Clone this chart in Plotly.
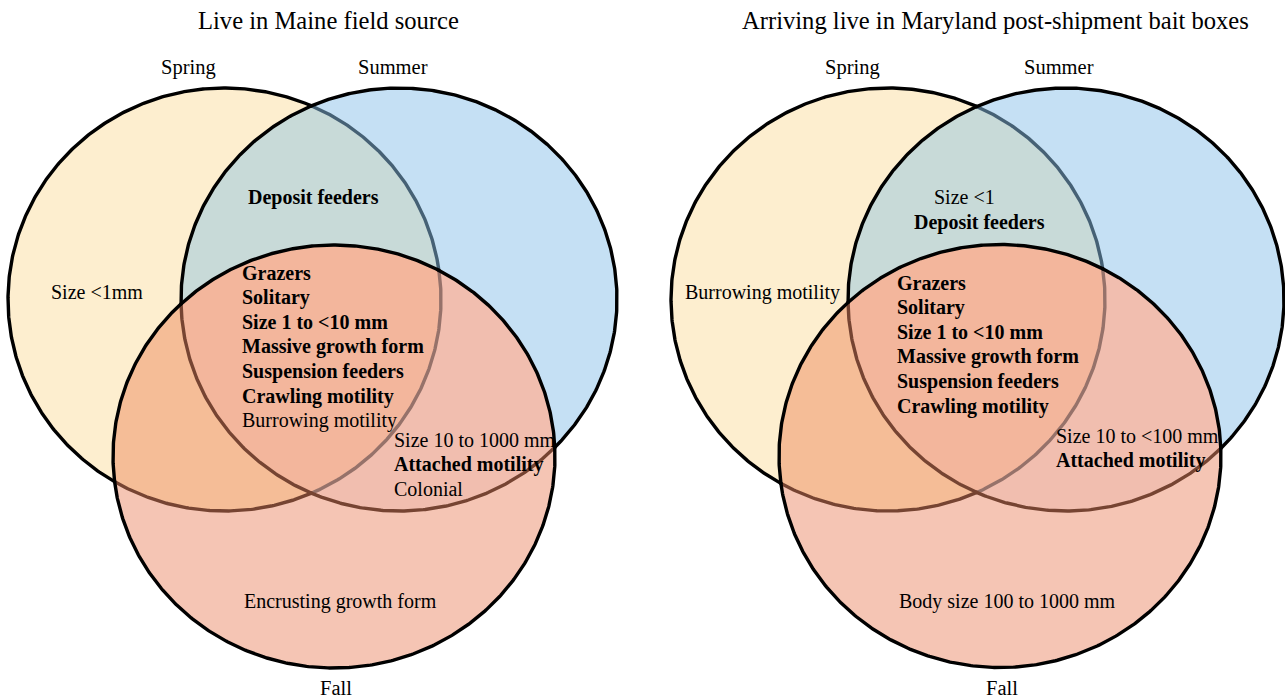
import numpy as np
import plotly.graph_objects as go

# ---------------- data ----------------
SET_NAMES = ["Spring", "Summer", "Fall"]
PANEL_TITLES = ["Live in Maine field source",
                "Arriving live in Maryland post-shipment bait boxes"]

# Region contents: (text, bold)
MAINE_SPRING_ONLY = [("Size <1mm", False)]
MAINE_SPRING_SUMMER = [("Deposit feeders", True)]
MAINE_ALL_SEASONS = [("Grazers", True), ("Solitary", True), ("Size 1 to <10 mm", True),
                     ("Massive growth form", True), ("Suspension feeders", True),
                     ("Crawling motility", True), ("Burrowing motility", False)]
MAINE_SUMMER_FALL = [("Size 10 to 1000 mm", False), ("Attached motility", True),
                     ("Colonial", False)]
MAINE_FALL_ONLY = [("Encrusting growth form", False)]

MD_SPRING_ONLY = [("Burrowing motility", False)]
MD_SPRING_SUMMER = [("Size <1", False), ("Deposit feeders", True)]
MD_ALL_SEASONS = [("Grazers", True), ("Solitary", True), ("Size 1 to <10 mm", True),
                  ("Massive growth form", True), ("Suspension feeders", True),
                  ("Crawling motility", True)]
MD_SUMMER_FALL = [("Size 10 to <100 mm", False), ("Attached motility", True)]
MD_FALL_ONLY = [("Body size 100 to 1000 mm", False)]

# ---------------- layout / style ----------------
W, H = 1285, 698
FONT = "Liberation Serif, Times New Roman, serif"
LINE_STEP = 24.6
LINE_W = 3.4

# fill colour of each region, keyed by membership (Spring, Summer, Fall)
REGION_COLORS = {
    (1, 0, 0): "rgb(253,238,207)",
    (0, 1, 0): "rgb(197,224,244)",
    (1, 1, 0): "rgb(200,218,216)",
    (0, 0, 1): "rgb(245,197,180)",
    (1, 0, 1): "rgb(245,189,151)",
    (0, 1, 1): "rgb(241,190,175)",
    (1, 1, 1): "rgb(243,182,156)",
}


def outline_color(i, others):
    """Tint of circle i's outline where it lies under the other (translucent) circles."""
    sp, su, fa = others
    if i == 0:
        if su and fa:
            return "rgb(150,114,106)"
        if su:
            return "rgb(70,97,117)"
        if fa:
            return "rgb(118,68,50)"
        return "black"
    if i == 1:
        return "rgb(118,68,50)" if fa else "black"
    return "black"


# ellipses: (cx, cy, rx, ry) for Spring, Summer, Fall
PANELS = [
    dict(title=PANEL_TITLES[0], title_x=328, title_size=24.6,
         ellipses=[(224.5, 299.5, 216.5, 211.5), (399, 299.5, 218, 211.5),
                   (334, 456.5, 221, 211.5)],
         set_label_pos=[(188, 67), (393, 67), (336, 688)],
         regions=[
             (MAINE_SPRING_ONLY, "center", 97, 292),
             (MAINE_SPRING_SUMMER, "center", 313, 197),
             (MAINE_ALL_SEASONS, "left", 240, 273),
             (MAINE_SUMMER_FALL, "left", 392, 440),
             (MAINE_FALL_ONLY, "center", 340, 601),
         ]),
    dict(title=PANEL_TITLES[1], title_x=995, title_size=24.6,
         ellipses=[(888, 299.5, 217, 211.5), (1066, 299.5, 218, 211.5),
                   (1000, 456, 221, 211.5)],
         set_label_pos=[(852, 67), (1059, 67), (1002, 688)],
         regions=[
             (MD_SPRING_ONLY, "center", 762, 292),
             (MD_SPRING_SUMMER[:1], "left", 932, 197),
             (MD_SPRING_SUMMER[1:], "left", 912, 222),
             (MD_ALL_SEASONS, "left", 895, 283),
             (MD_SUMMER_FALL, "left", 1054, 436),
             (MD_FALL_ONLY, "center", 1007, 601),
         ]),
]


def ell_xy(e, t):
    cx, cy, rx, ry = e
    return cx + rx * np.cos(t), cy + ry * np.sin(t)


def is_in(e, x, y):
    cx, cy, rx, ry = e
    return ((x - cx) / rx) ** 2 + ((y - cy) / ry) ** 2 < 1


def venn_arcs(E):
    """Split each ellipse into arcs at its crossings with the other ellipses."""
    arcs = []
    N = 3600
    for i in range(3):
        others = [j for j in range(3) if j != i]

        def code(t):
            x, y = ell_xy(E[i], t)
            return sum((1 << j) * is_in(E[j], x, y) for j in others)

        t = np.linspace(0, 2 * np.pi, N, endpoint=False)
        c = code(t)
        cuts = []
        for n in np.nonzero(c != np.roll(c, 1))[0]:
            lo = t[n - 1] if n > 0 else t[-1] - 2 * np.pi
            hi = t[n]
            clo = code(np.array([lo]))[0]
            for _ in range(40):
                mid = (lo + hi) / 2
                if code(np.array([mid]))[0] == clo:
                    lo = mid
                else:
                    hi = mid
            cuts.append(((lo + hi) / 2) % (2 * np.pi))
        cuts.sort()
        for n in range(len(cuts)):
            a0 = cuts[n]
            a1 = cuts[(n + 1) % len(cuts)]
            if a1 <= a0:
                a1 += 2 * np.pi
            mx, my = ell_xy(E[i], (a0 + a1) / 2)
            inside = tuple(int(is_in(E[j], mx, my)) if j != i else None for j in range(3))
            arcs.append(dict(circle=i, a0=a0, a1=a1, inside=inside))
    return arcs


def arc_pts(e, t0, t1):
    n = max(6, int(abs(t1 - t0) / np.pi * 360))
    return ell_xy(e, np.linspace(t0, t1, n))


fig = go.Figure()
annotations = []

for p in PANELS:
    E = p["ellipses"]
    arcs = venn_arcs(E)
    # ---- region fills ----
    for memb, color in REGION_COLORS.items():
        segs = []
        for a in arcs:
            i = a["circle"]
            if all(a["inside"][j] == memb[j] for j in range(3) if j != i):
                if memb[i]:
                    segs.append(arc_pts(E[i], a["a0"], a["a1"]))
                else:
                    segs.append(arc_pts(E[i], a["a1"], a["a0"]))
        order, used = [0], {0}
        while len(order) < len(segs):
            ex, ey = segs[order[-1]][0][-1], segs[order[-1]][1][-1]
            best, bd = None, 1e9
            for n, (x, y) in enumerate(segs):
                if n in used:
                    continue
                dd = np.hypot(x[0] - ex, y[0] - ey)
                if dd < bd:
                    best, bd = n, dd
            order.append(best)
            used.add(best)
        xs = np.concatenate([segs[n][0] for n in order])
        ys = np.concatenate([segs[n][1] for n in order])
        fig.add_trace(go.Scatter(x=xs, y=ys, mode="lines", fill="toself",
                                 fillcolor=color, line=dict(width=0.5, color=color),
                                 hoverinfo="skip", showlegend=False))
    # ---- outlines (Spring, Summer, Fall in drawing order) ----
    for i in range(3):
        for a in arcs:
            if a["circle"] != i:
                continue
            x, y = arc_pts(E[i], a["a0"] - 0.004, a["a1"] + 0.004)
            fig.add_trace(go.Scatter(x=x, y=y, mode="lines",
                                     line=dict(width=LINE_W,
                                               color=outline_color(i, a["inside"])),
                                     hoverinfo="skip", showlegend=False))
    # ---- texts ----
    annotations.append(dict(x=p["title_x"], y=20, text=p["title"], showarrow=False,
                            xref="x", yref="y", xanchor="center", yanchor="middle",
                            font=dict(family=FONT, size=p["title_size"], color="black")))
    for name, (lx, ly) in zip(SET_NAMES, p["set_label_pos"]):
        annotations.append(dict(x=lx, y=ly, text=name, showarrow=False,
                                xref="x", yref="y", xanchor="center", yanchor="middle",
                                font=dict(family=FONT, size=20.5, color="black")))
    for items, anchor, x, y0 in p["regions"]:
        for i, (txt, bold) in enumerate(items):
            annotations.append(dict(x=x, y=y0 + i * LINE_STEP,
                                    text=f"<b>{txt}</b>" if bold else txt,
                                    showarrow=False, xref="x", yref="y",
                                    xanchor=anchor, yanchor="middle",
                                    font=dict(family=FONT, size=20, color="black")))

fig.update_layout(
    width=W, height=H, margin=dict(l=0, r=0, t=0, b=0),
    paper_bgcolor="white", plot_bgcolor="white",
    xaxis=dict(range=[0, W], visible=False, fixedrange=True),
    yaxis=dict(range=[H, 0], visible=False, fixedrange=True),
    annotations=annotations, showlegend=False, hovermode=False,
)
fig.write_html("out.html", config={"displayModeBar": False},
               post_script="document.body.style.margin='0px';document.body.style.overflow='hidden';")
